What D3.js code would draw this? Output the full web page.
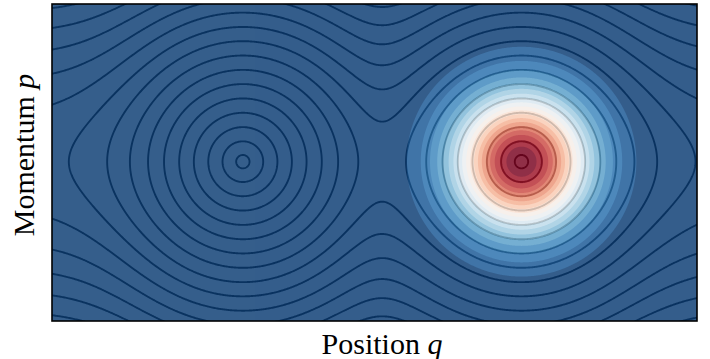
<!DOCTYPE html>
<html lang="en">
<head>
<meta charset="utf-8">
<title>Phase space</title>
<script src="https://cdn.jsdelivr.net/npm/d3@7"></script>
<style>
  body { margin: 0; background: #fff; }
  text { font-family: "Liberation Serif", "DejaVu Serif", serif; }
</style>
</head>
<body>
<svg id="canvas" width="710" height="359"></svg>
<script>

/*********************************************************************/
// Data

var qDomain = [-2.37, 2.26];          // position axis range
var pDomain = [-1.144, 1.132];        // momentum axis range
var wellCentres = [-1, 1];            // the two fixed points (q)
var wellDepth = 1.03;                 // saturation of the potential
var packetCentre = [1, 0];            // centre of the density (q, p)
var packetWidth = 0.337;              // density std. dev.

// energy-like levels of the contour lines
var hamLevels = [0.048, 0.146, 0.248, 0.351, 0.454, 0.557, 0.659, 0.762,
                 0.865, 0.967, 1.070, 1.173, 1.275, 1.378, 1.481, 1.583];

// density levels of the filled bands
var densLevels = [0, 0.05, 0.10, 0.15, 0.20, 0.25, 0.30, 0.35, 0.40, 0.45, 0.50,
                  0.55, 0.60, 0.65, 0.70, 0.75, 0.80, 0.85, 0.90, 0.95, 1.0];

var xLabel = "Position ", xVar = "q";
var yLabel = "Momentum ", yVar = "p";

/*********************************************************************/
// Layout

var mLeft = 52, mRight = 697, mTop = 4, mBottom = 321;
var svg = d3.select("#canvas");

var x = d3.scaleLinear().domain(qDomain).range([mLeft, mRight]);
var y = d3.scaleLinear().domain(pDomain).range([mBottom, mTop]);

var colour = function(t){ return d3.interpolateRdBu(1 - t); };

/*********************************************************************/
// Fields on a pixel grid (padded so ring edges fall outside the clip)

var pad = 3;
var nx = (mRight - mLeft) + 2*pad, ny = (mBottom - mTop) + 2*pad;

function softmin(a, b, s){
	var m = Math.min(a, b);
	return m - s*Math.log(Math.exp(-(a - m)/s) + Math.exp(-(b - m)/s));
}

function hamiltonian(q, p){
	var u1 = (q - wellCentres[0])*(q - wellCentres[0]);
	var u2 = (q - wellCentres[1])*(q - wellCentres[1]);
	var w = wellDepth*Math.tanh(softmin(u1, u2, 0.3)/wellDepth);
	return Math.sqrt(p*p + w);
}

function density(q, p){
	var dq = q - packetCentre[0], dp = p - packetCentre[1];
	return Math.exp(-(dq*dq + dp*dp)/(2*packetWidth*packetWidth));
}

var hamValues = new Float64Array(nx*ny);
var densValues = new Float64Array(nx*ny);
for (var j = 0; j < ny; j++){
	var p = y.invert(mTop - pad + j + 0.5);
	for (var i = 0; i < nx; i++){
		var q = x.invert(mLeft - pad + i + 0.5);
		hamValues[i + j*nx] = hamiltonian(q, p);
		densValues[i + j*nx] = density(q, p);
	}
}

var path = d3.geoPath(d3.geoIdentity().translate([mLeft - pad, mTop - pad]));

/*********************************************************************/
// Clip

svg.append("clipPath")
	.attr("id", "plotClip")
	.append("rect")
	.attr("x", mLeft).attr("y", mTop)
	.attr("width", mRight - mLeft).attr("height", mBottom - mTop);

var plot = svg.append("g").attr("clip-path", "url(#plotClip)");

/*********************************************************************/
// Contour lines (drawn first, the translucent fill sits on top)

var lines = d3.contours().size([nx, ny]).thresholds(hamLevels)(hamValues);

plot.append("g")
	.selectAll("path")
	.data(lines)
	.join("path")
	.attr("d", path)
	.attr("fill", "none")
	.attr("stroke", "#000")
	.attr("stroke-width", 1.9);

/*********************************************************************/
// Filled density bands

var bandMid = function(k){
	return (densLevels[k] + densLevels[Math.min(k + 1, densLevels.length - 1)])/2;
};

var fills = plot.append("g").attr("opacity", 0.83);

fills.append("rect")
	.attr("x", mLeft).attr("y", mTop)
	.attr("width", mRight - mLeft).attr("height", mBottom - mTop)
	.attr("fill", colour(bandMid(0)));

var bands = d3.contours().size([nx, ny]).thresholds(densLevels.slice(1, -1))(densValues);

fills.selectAll("path")
	.data(bands)
	.join("path")
	.attr("d", path)
	.attr("fill", function(d, k){ return colour(bandMid(k + 1)); });

/*********************************************************************/
// Frame and labels

svg.append("rect")
	.attr("x", mLeft).attr("y", mTop)
	.attr("width", mRight - mLeft).attr("height", mBottom - mTop)
	.attr("fill", "none")
	.attr("stroke", "#000")
	.attr("stroke-width", 1.6);

var xt = svg.append("text")
	.attr("x", 382)
	.attr("y", 354)
	.attr("text-anchor", "middle")
	.attr("font-size", 30)
	.text(xLabel);
xt.append("tspan").attr("font-style", "italic").text(xVar);

var yt = svg.append("text")
	.attr("transform", "translate(34,155) rotate(-90)")
	.attr("text-anchor", "middle")
	.attr("font-size", 30)
	.text(yLabel);
yt.append("tspan").attr("font-style", "italic").text(yVar);

</script>
</body>
</html>
